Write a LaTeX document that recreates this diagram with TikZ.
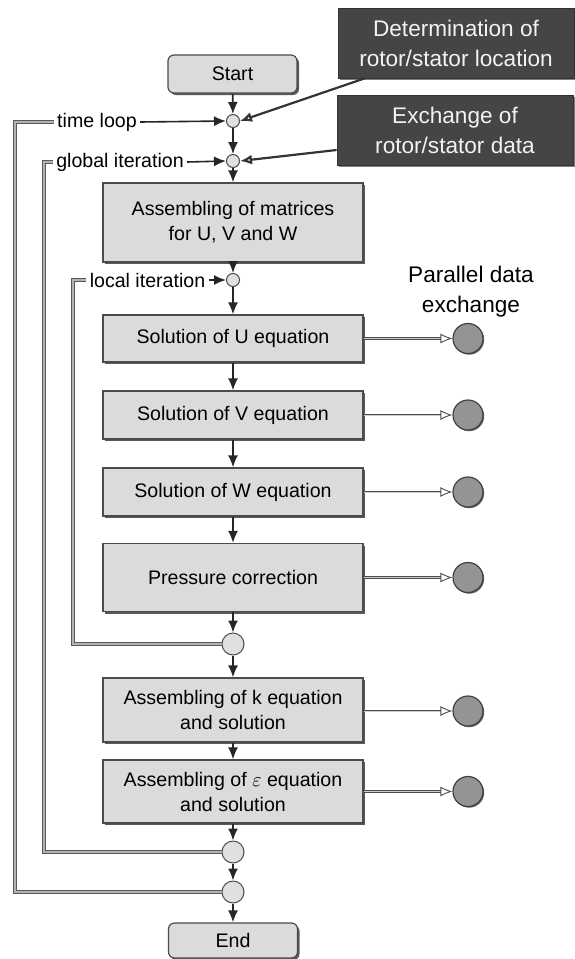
\documentclass[tikz,border=0pt]{standalone}
\usepackage{fontspec}
\setmainfont{Liberation Sans}
\usetikzlibrary{arrows.meta,shadows,positioning}

\tikzset{
	box/.style={draw=black!70, fill=black!14, line width=0.6pt, inner sep=0pt,
		minimum width=130pt, align=center, font=\fontsize{9.8}{12.5}\selectfont,
		drop shadow={shadow xshift=1pt, shadow yshift=-1pt, fill=black!65, opacity=1}},
	startend/.style={box, rounded corners=3pt, minimum width=64.5pt},
	darkbox/.style={draw=black!80, fill=black!73, text=black!5, inner sep=0pt,
		minimum width=118pt, minimum height=35pt, align=center,
		font=\fontsize{11.3}{15}\selectfont,
		drop shadow={shadow xshift=1pt, shadow yshift=-1pt, fill=black!50, opacity=1}},
	junc/.style={circle, draw=black!70, fill=black!12, line width=0.5pt, inner sep=0pt, minimum size=6.5pt},
	bigjunc/.style={junc, minimum size=11pt},
	exch/.style={circle, draw=black!75, fill=black!42, line width=0.6pt, inner sep=0pt, minimum size=15pt,
		drop shadow={shadow xshift=0.6pt, shadow yshift=-0.6pt, fill=black!60, opacity=1}},
	looplabel/.style={inner sep=1.5pt, font=\fontsize{9.8}{12}\selectfont},
	flow/.style={draw=black!85, line width=0.8pt, -{Latex[length=6pt, width=5pt]}},
	feed/.style={draw=black!80, line width=1.1pt, -{Latex[open, length=6pt, width=5pt]}},
	xarrow/.style={draw=black!70, double=black!20, double distance=0.5pt, line width=0.45pt,
		-{Latex[open, length=6pt, width=5pt]}},
	loopline/.style={draw=black!65, double=black!30, double distance=1.4pt, line width=0.45pt},
}

\begin{document}
\begin{tikzpicture}[x=0.5pt, y=-0.5pt]
	\useasboundingbox (0,0) rectangle (574,959);

	% main column
	\node[startend, minimum height=19pt] (start) at (232.5,74) {Start};
	\node[junc] (j1) at (233,121) {};
	\node[junc] (j2) at (233,161) {};
	\node[box, minimum height=39.5pt] (asm) at (233,222.5) {Assembling of matrices\\for U, V and W};
	\node[junc] (j3) at (233,280) {};
	\node[box, minimum height=23.5pt] (solu) at (233,338.5) {Solution of U equation};
	\node[box, minimum height=24pt] (solv) at (233,415) {Solution of V equation};
	\node[box, minimum height=24pt] (solw) at (233,492) {Solution of W equation};
	\node[box, minimum height=34pt] (pres) at (233,577.5) {Pressure correction};
	\node[bigjunc] (j4) at (233,644) {};
	\node[box, minimum height=32pt] (kbox) at (233,710) {Assembling of k equation\\and solution};
	\node[box, minimum height=31.5pt] (ebox) at (233,791.5) {Assembling of $\varepsilon$ equation\\and solution};
	\node[bigjunc] (j5) at (233,852) {};
	\node[bigjunc] (j6) at (233,892) {};
	\node[startend, minimum height=17.5pt] (end) at (233,940.5) {End};

	\draw[flow] (start) -- (j1);
	\draw[flow] (j1) -- (j2);
	\draw[flow] (j2) -- (asm);
	\draw[flow] (asm) -- (j3);
	\draw[flow] (j3) -- (solu);
	\draw[flow] (solu) -- (solv);
	\draw[flow] (solv) -- (solw);
	\draw[flow] (solw) -- (pres);
	\draw[flow] (pres) -- (j4);
	\draw[flow] (j4) -- (kbox);
	\draw[flow] (kbox) -- (ebox);
	\draw[flow] (ebox) -- (j5);
	\draw[flow] (j5) -- (j6);
	\draw[flow] (j6) -- (end);

	% rotor/stator boxes
	\node[darkbox] (loc) at (456,43) {Determination of\\rotor/stator location};
	\node[darkbox] (xch) at (455,130) {Exchange of\\rotor/stator data};
	\draw[feed] ([xshift=13.5pt]loc.south west) -- (j1.east);
	\draw[feed] ([yshift=-10pt]xch.west) -- (j2.east);

	% loops
	\node[looplabel] (tl) at (97,122) {time loop};
	\node[looplabel] (gi) at (120,162) {global iteration};
	\node[looplabel] (li) at (147.5,280) {local iteration};
	\draw[loopline] (j6.west) -- (15,892) -- (15,122) -- (tl.west);
	\draw[loopline] (j5.west) -- (44,852) -- (44,162) -- (gi.west);
	\draw[loopline] (j4.west) -- (73,644) -- (73,280) -- (li.west);
	\draw[flow] (tl.east) -- (j1.west);
	\draw[flow] (gi.east) -- (j2.west);
	\draw[flow] (li.east) -- (j3.west);

	% parallel data exchange
	\node[font=\fontsize{11.3}{15}\selectfont, align=center] (par) at (471,292) {Parallel data\\exchange};
	\node[exch] (cu) at (468,338.5) {};
	\node[exch] (cv) at (468,415) {};
	\node[exch] (cw) at (468,492) {};
	\node[exch] (cp) at (468,577.5) {};
	\node[exch] (ck) at (468,711) {};
	\node[exch] (ce) at (468,791.5) {};
	\draw[xarrow] (solu) -- (cu);
	\draw[xarrow] (solv) -- (cv);
	\draw[xarrow] (solw) -- (cw);
	\draw[xarrow] (pres) -- (cp);
	\draw[xarrow] (kbox.east |- ck) -- (ck);
	\draw[xarrow] (ebox) -- (ce);
\end{tikzpicture}
\end{document}
